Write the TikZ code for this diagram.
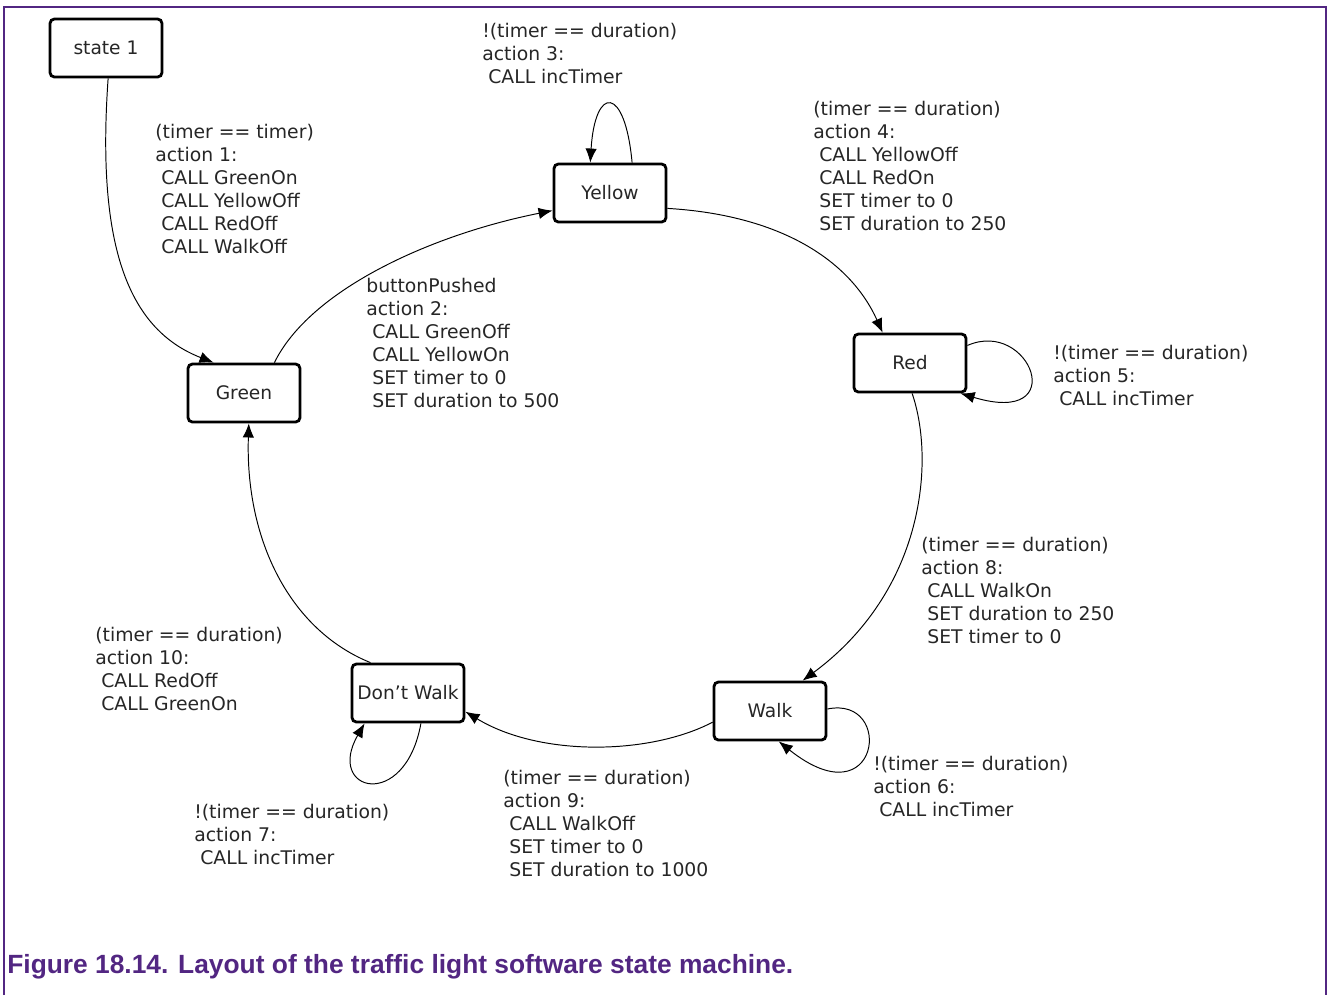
\documentclass[tikz,border=0pt]{standalone}
\usepackage{fontspec}
\setmainfont{DejaVu Sans}
\newfontfamily\capfont{Liberation Sans}
\usetikzlibrary{arrows.meta}
\definecolor{capviolet}{RGB}{82,38,130}

\begin{document}
\begin{tikzpicture}[x=0.02cm, y=-0.02cm,
	state/.style = {draw=black, line width=1.6pt, rounded corners=2.5pt, fill=white, minimum width=2.24cm, minimum height=1.16cm, inner sep=0pt, font=\fontsize{10.6}{13}\selectfont, text=black!85},
	trans/.style = {line width=0.55pt, -{Latex[length=8pt,width=6.5pt]}},
	lab/.style = {anchor=north west, align=left, inner sep=0pt, font=\fontsize{10.7}{13.1}\selectfont, text=black!85},
	figframe/.style = {draw=capviolet, line width=1.4pt}
]
\useasboundingbox (0,0) rectangle (1328,995);

% Frame of the figure (open at the bottom)
\draw[figframe] (4,995) -- (4,7) -- (1326,7) -- (1326,995);

% States of the traffic light
\node[state] (S1)     at (106,48)  {state 1};
\node[state] (Yellow) at (610,193) {Yellow};
\node[state] (Red)    at (910,363) {Red};
\node[state] (Green)  at (244,393) {Green};
\node[state] (DWalk)  at (408,693) {Don't Walk};
\node[state] (Walk)   at (770,711) {Walk};

% Transitions between states
\draw[trans] (S1.-86) .. controls (96,250) and (130,330) .. (Green.135);
\draw[trans] (Green.45) .. controls (310,290) and (430,235) .. (Yellow.197);
\draw[trans] (Yellow.-15) .. controls (780,215) and (850,260) .. (Red.132);
\draw[trans] (Red.-86) .. controls (935,460) and (925,590) .. (Walk.43);
\draw[trans] (Walk.191) .. controls (650,755) and (540,757) .. (DWalk.-18);
\draw[trans] (DWalk.141) .. controls (290,630) and (245,540) .. (Green.-81);

% Self loops (timer still running)
\draw[trans] (Yellow.54) .. controls (625,85) and (595,85) .. (Yellow.123);
\draw[trans] (Red.17) .. controls (1030,318) and (1072,427) .. (Red.-31);
\draw[trans] (Walk.2) .. controls (895,695) and (880,822) .. (Walk.-74);
\draw[trans] (DWalk.-67) .. controls (405,812) and (325,792) .. (DWalk.-145);

% Guards and actions
\node[lab] (act1) at (155,124) {(timer == timer)\\action 1:\\\ CALL GreenOn\\\ CALL YellowOff\\\ CALL RedOff\\\ CALL WalkOff};
\node[lab] (act2) at (366,278) {buttonPushed\\action 2:\\\ CALL GreenOff\\\ CALL YellowOn\\\ SET timer to 0\\\ SET duration to 500};
\node[lab] (act3) at (482,23) {!(timer == duration)\\action 3:\\\ CALL incTimer};
\node[lab] (act4) at (813,101) {(timer == duration)\\action 4:\\\ CALL YellowOff\\\ CALL RedOn\\\ SET timer to 0\\\ SET duration to 250};
\node[lab] (act5) at (1053,345) {!(timer == duration)\\action 5:\\\ CALL incTimer};
\node[lab] (act8) at (921,537) {(timer == duration)\\action 8:\\\ CALL WalkOn\\\ SET duration to 250\\\ SET timer to 0};
\node[lab] (act10) at (95,627) {(timer == duration)\\action 10:\\\ CALL RedOff\\\ CALL GreenOn};
\node[lab] (act6) at (873,756) {!(timer == duration)\\action 6:\\\ CALL incTimer};
\node[lab] (act9) at (503,770) {(timer == duration)\\action 9:\\\ CALL WalkOff\\\ SET timer to 0\\\ SET duration to 1000};
\node[lab] (act7) at (194,804) {!(timer == duration)\\action 7:\\\ CALL incTimer};

% Caption
\node[anchor=base west, inner sep=0pt, text=capviolet, font={\capfont\fontsize{15}{17}\selectfont\bfseries}] (cap) at (7,973) {Figure 18.14. Layout of the traffic light software state machine.};

\end{tikzpicture}
\end{document}
